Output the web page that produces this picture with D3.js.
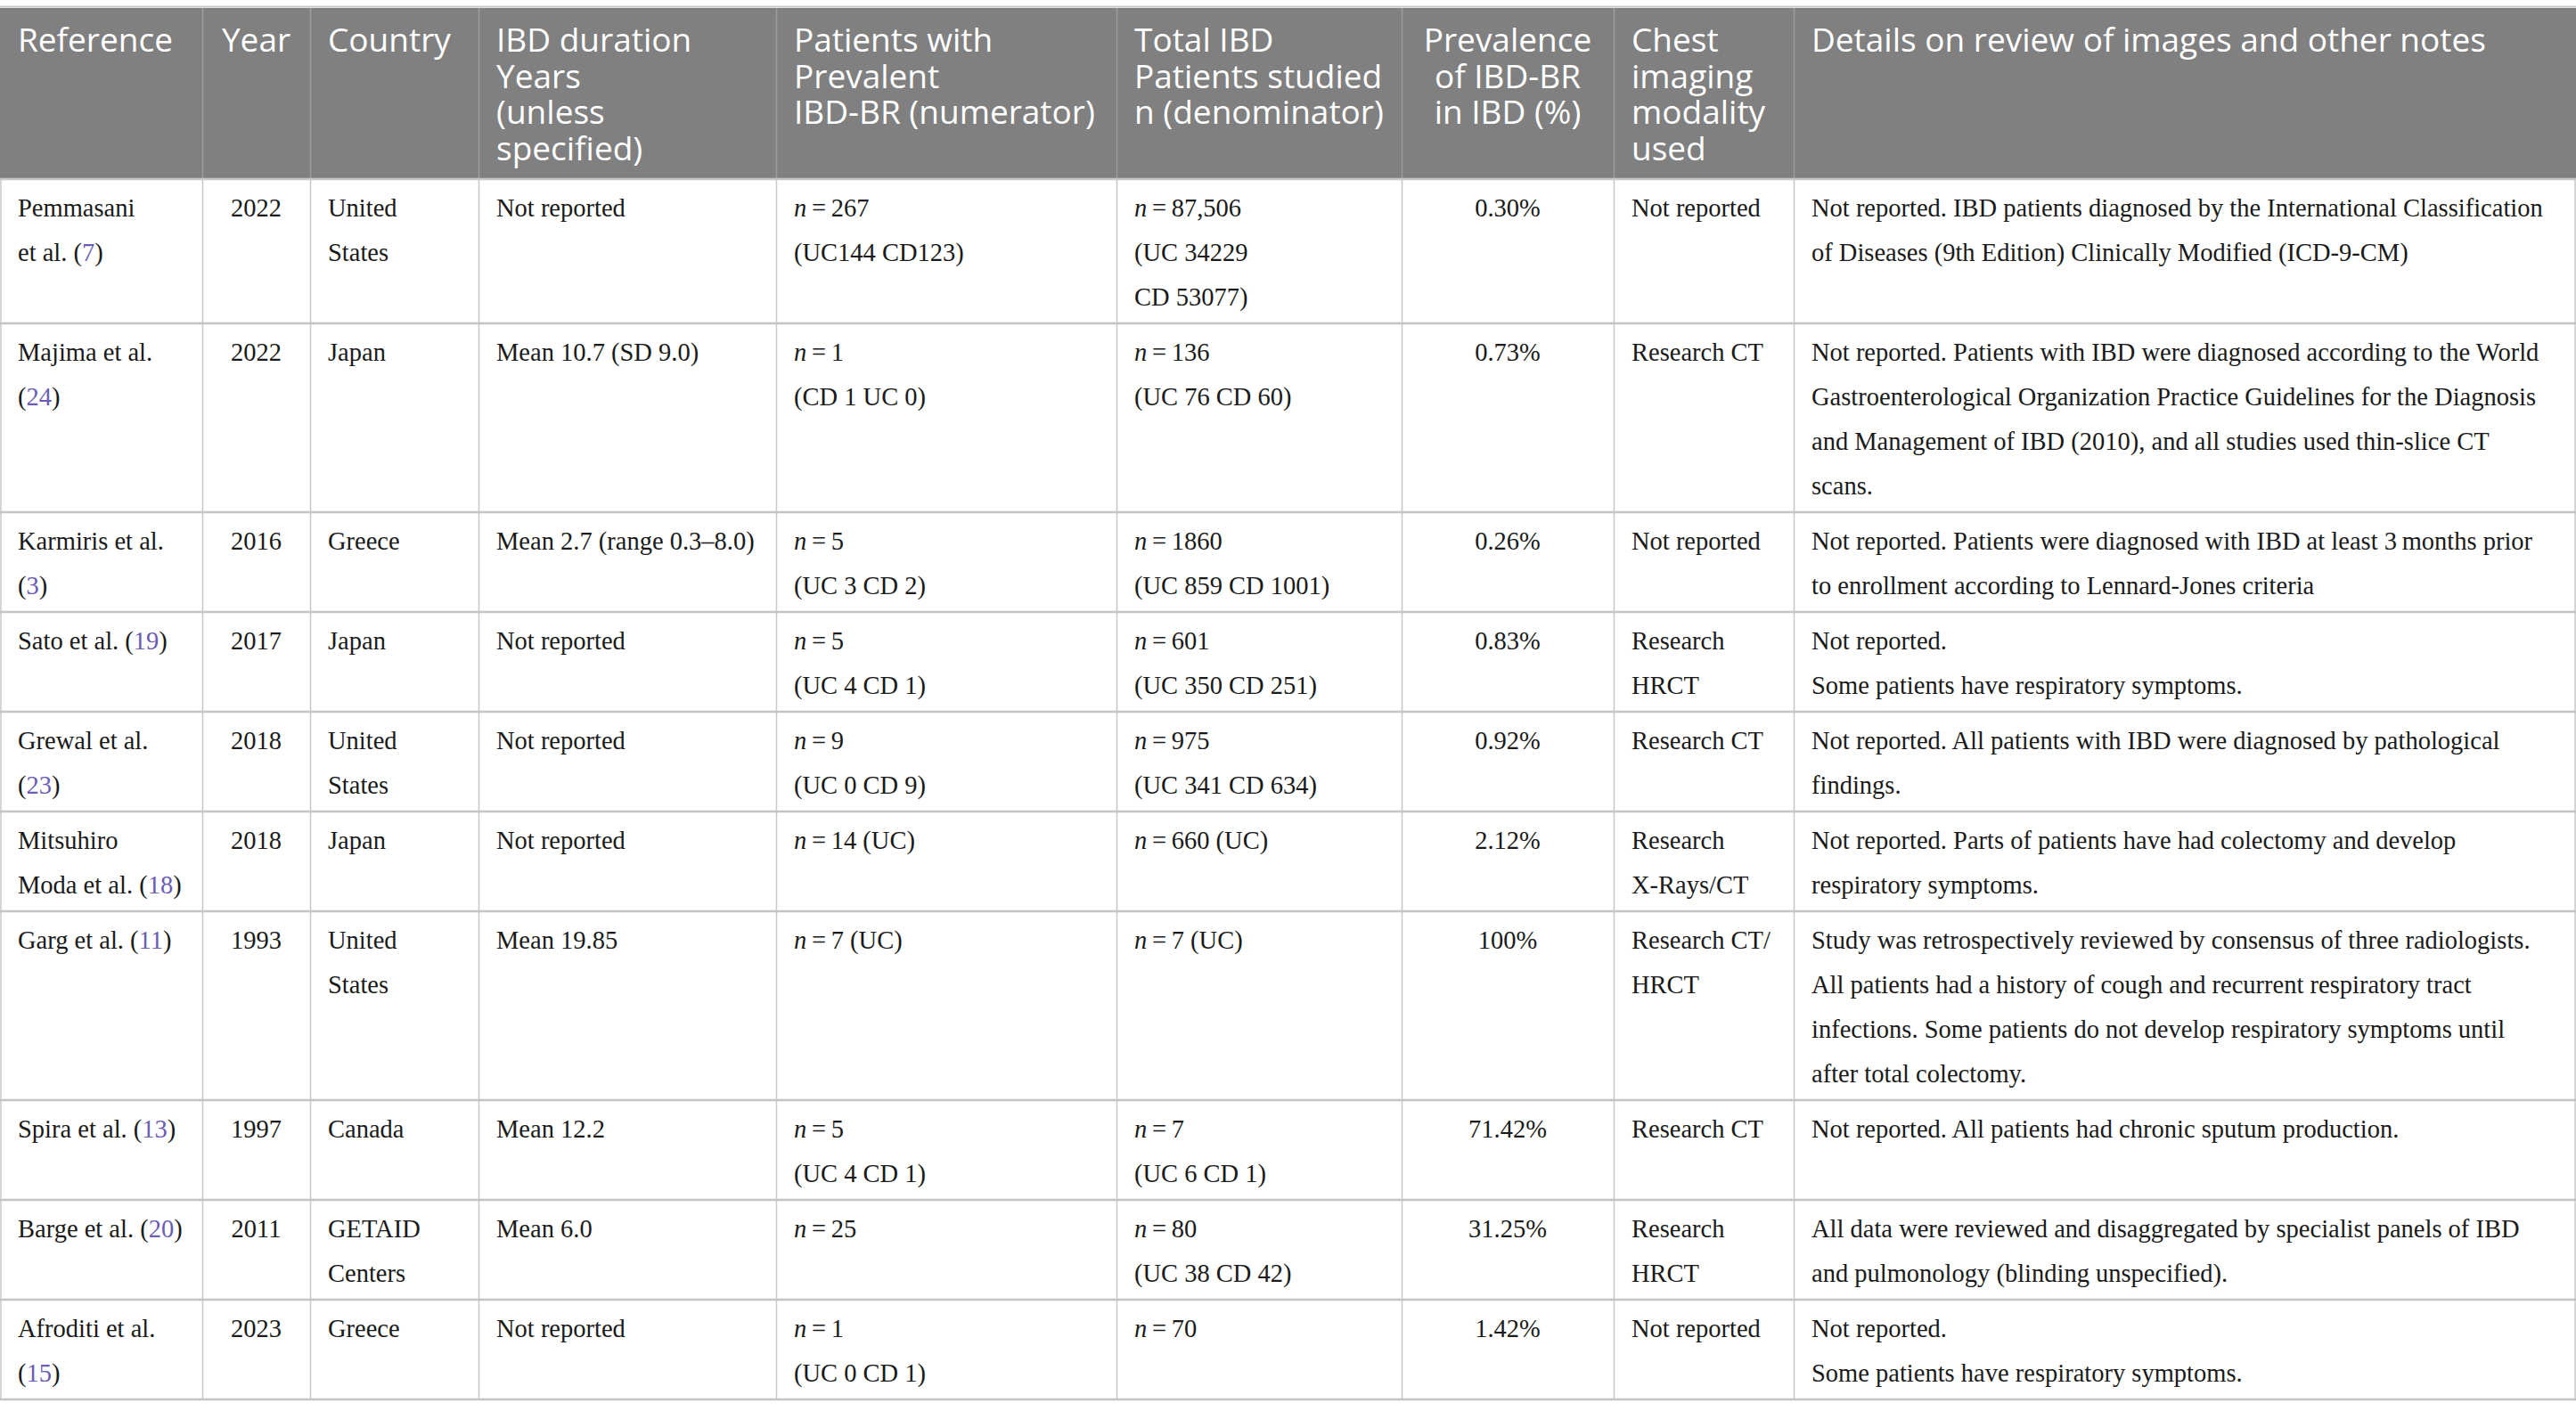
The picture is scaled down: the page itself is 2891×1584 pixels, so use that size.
<!DOCTYPE html>
<html>
<head>
<meta charset="utf-8">
<script src="https://cdn.jsdelivr.net/npm/d3@7"></script>
<style>
  html, body { margin: 0; padding: 0; background: #fff; }
  svg { display: block; }
</style>
</head>
<body>
<div id="chart"></div>
<script>
// column headers, one string per header line
var headers = [
  ["Reference"],
  ["Year"],
  ["Country"],
  ["IBD duration", "Years", "(unless", "specified)"],
  ["Patients with", "Prevalent", "IBD-BR (numerator)"],
  ["Total IBD", "Patients studied", "n (denominator)"],
  ["Prevalence", "of IBD-BR", "in IBD (%)"],
  ["Chest", "imaging", "modality", "used"],
  ["Details on review of images and other notes"],
];

// table cells, "|" splits the lines as printed
var references = [
  "Pemmasani|et al. (7)",
  "Majima et al.|(24)",
  "Karmiris et al.|(3)",
  "Sato et al. (19)",
  "Grewal et al.|(23)",
  "Mitsuhiro|Moda et al. (18)",
  "Garg et al. (11)",
  "Spira et al. (13)",
  "Barge et al. (20)",
  "Afroditi et al.|(15)",
];
var years = ["2022", "2022", "2016", "2017", "2018", "2018", "1993", "1997", "2011", "2023"];
var countries = [
  "United|States", "Japan", "Greece", "Japan", "United|States",
  "Japan", "United|States", "Canada", "GETAID|Centers", "Greece",
];
var durations = [
  "Not reported",
  "Mean 10.7 (SD 9.0)",
  "Mean 2.7 (range 0.3\u20138.0)",
  "Not reported",
  "Not reported",
  "Not reported",
  "Mean 19.85",
  "Mean 12.2",
  "Mean 6.0",
  "Not reported",
];
var numerators = [
  "n=267|(UC144 CD123)",
  "n=1|(CD 1 UC 0)",
  "n=5|(UC 3 CD 2)",
  "n=5|(UC 4 CD 1)",
  "n=9|(UC 0 CD 9)",
  "n=14 (UC)",
  "n=7 (UC)",
  "n=5|(UC 4 CD 1)",
  "n=25",
  "n=1|(UC 0 CD 1)",
];
var denominators = [
  "n=87,506|(UC 34229|CD 53077)",
  "n=136|(UC 76 CD 60)",
  "n=1860|(UC 859 CD 1001)",
  "n=601|(UC 350 CD 251)",
  "n=975|(UC 341 CD 634)",
  "n=660 (UC)",
  "n=7 (UC)",
  "n=7|(UC 6 CD 1)",
  "n=80|(UC 38 CD 42)",
  "n=70",
];
var prevalence = ["0.30%", "0.73%", "0.26%", "0.83%", "0.92%", "2.12%", "100%", "71.42%", "31.25%", "1.42%"];
var modality = [
  "Not reported", "Research CT", "Not reported", "Research|HRCT", "Research CT",
  "Research|X-Rays/CT", "Research CT/|HRCT", "Research CT", "Research|HRCT", "Not reported",
];
var details = [
  "Not reported. IBD patients diagnosed by the International Classification|of Diseases (9th Edition) Clinically Modified (ICD-9-CM)",
  "Not reported. Patients with IBD were diagnosed according to the World|Gastroenterological Organization Practice Guidelines for the Diagnosis|and Management of IBD (2010), and all studies used thin-slice CT|scans.",
  "Not reported. Patients were diagnosed with IBD at least 3\u2009months prior|to enrollment according to Lennard-Jones criteria",
  "Not reported.|Some patients have respiratory symptoms.",
  "Not reported. All patients with IBD were diagnosed by pathological|findings.",
  "Not reported. Parts of patients have had colectomy and develop|respiratory symptoms.",
  "Study was retrospectively reviewed by consensus of three radiologists.|All patients had a history of cough and recurrent respiratory tract|infections. Some patients do not develop respiratory symptoms until|after total colectomy.",
  "Not reported. All patients had chronic sputum production.",
  "All data were reviewed and disaggregated by specialist panels of IBD|and pulmonology (blinding unspecified).",
  "Not reported.|Some patients have respiratory symptoms.",
];

var columns = [references, years, countries, durations, numerators, denominators, prevalence, modality, details];

// layout
var width = 2891, height = 1584;
var colWidths = [227, 121, 189, 334, 382, 320, 238, 202, 878];
var colAlign = ["start", "middle", "start", "start", "start", "start", "middle", "start", "start"];
var headTop = 9, headH = 192, headLine = 40.5, headBase = 49;
var lineH = 50, rowPad = 12, bodyBase = 42, padX = 20;

var colIdx = d3.range(columns.length);
var edges = d3.cumsum([0].concat(colWidths));
var x = d3.scaleOrdinal().domain(colIdx).range(edges.slice(0, -1));

var rows = d3.range(years.length).map(function (i) {
  var cells = columns.map(function (c) { return c[i].split("|"); });
  return { i: i, cells: cells, lines: d3.max(cells, function (c) { return c.length; }) };
});
var rowHeights = rows.map(function (r) { return rowPad + r.lines * lineH; });
var rowTops = d3.cumsum([headTop + headH].concat(rowHeights));
var y = d3.scaleOrdinal().domain(d3.range(rows.length)).range(rowTops.slice(0, -1));

var svg = d3.select("#chart").append("svg")
  .attr("width", width)
  .attr("height", height);

// header band
svg.append("line")
  .attr("x1", 0).attr("x2", width)
  .attr("y1", headTop - 1.5).attr("y2", headTop - 1.5)
  .attr("stroke", "#c8c8c8").attr("stroke-width", 2);
svg.append("rect")
  .attr("x", 0).attr("y", headTop)
  .attr("width", width).attr("height", headH)
  .attr("fill", "#7f807f");

function textX(c) {
  return colAlign[c] === "middle" ? x(c) + colWidths[c] / 2 : x(c) + padX;
}

var head = svg.append("g").selectAll("text")
  .data(colIdx)
  .join("text")
  .attr("x", textX)
  .attr("y", headTop + headBase)
  .attr("text-anchor", function (c) { return colAlign[c]; })
  .attr("font-family", "'Open Sans', 'Noto Sans', sans-serif")
  .attr("font-size", 37)
  .attr("fill", "#ffffff");
head.selectAll("tspan")
  .data(function (c) { return headers[c].map(function (t) { return { c: c, t: t }; }); })
  .join("tspan")
  .attr("x", function (d) { return textX(d.c); })
  .attr("dy", function (d, k) { return k === 0 ? 0 : headLine; })
  .text(function (d) { return d.t; });

// header column separators
svg.append("g").selectAll("line")
  .data(colIdx.slice(1))
  .join("line")
  .attr("x1", function (c) { return x(c) + 0.5; })
  .attr("x2", function (c) { return x(c) + 0.5; })
  .attr("y1", headTop).attr("y2", headTop + headH)
  .attr("stroke", "#9c9c9c").attr("stroke-width", 1.5);

// body grid
var grid = svg.append("g");
grid.selectAll("line.v")
  .data(colIdx.concat([columns.length]))
  .join("line")
  .attr("class", "v")
  .attr("x1", function (c) { return c === columns.length ? width - 1 : (c === 0 ? 1 : x(c) + 0.5); })
  .attr("x2", function (c) { return c === columns.length ? width - 1 : (c === 0 ? 1 : x(c) + 0.5); })
  .attr("y1", headTop + headH)
  .attr("y2", rowTops[rowTops.length - 1])
  .attr("stroke", "#c8c8c8").attr("stroke-width", 1.5);
grid.selectAll("line.h")
  .data(rowTops)
  .join("line")
  .attr("class", "h")
  .attr("x1", 0).attr("x2", width)
  .attr("y1", function (d) { return d; })
  .attr("y2", function (d) { return d; })
  .attr("stroke", "#c4c4c4").attr("stroke-width", 2.5);

// body cells
var cellData = [];
rows.forEach(function (r) {
  r.cells.forEach(function (lines, c) {
    lines.forEach(function (t, k) {
      cellData.push({ row: r.i, c: c, k: k, t: t });
    });
  });
});

var body = svg.append("g").selectAll("text")
  .data(cellData)
  .join("text")
  .attr("x", function (d) { return textX(d.c); })
  .attr("y", function (d) { return y(d.row) + bodyBase + d.k * lineH; })
  .attr("text-anchor", function (d) { return colAlign[d.c]; })
  .attr("font-family", "'Liberation Serif', 'Times New Roman', serif")
  .attr("font-size", 28.5)
  .attr("fill", "#1a1a1a");

body.each(function (d) {
  var t = d3.select(this);
  var s = d.t;
  var m = s.match(/^n=(.*)$/);
  if (m) {
    t.append("tspan").attr("font-style", "italic").text("n");
    t.append("tspan").text("\u2009=\u2009" + m[1]);
    return;
  }
  var ref = s.match(/^(.*)\((\d+)\)$/);
  if (d.c === 0 && ref) {
    t.append("tspan").text(ref[1] + "(");
    t.append("tspan").attr("fill", "#6a5db3").text(ref[2]);
    t.append("tspan").text(")");
    return;
  }
  t.text(s);
});
</script>
</body>
</html>
